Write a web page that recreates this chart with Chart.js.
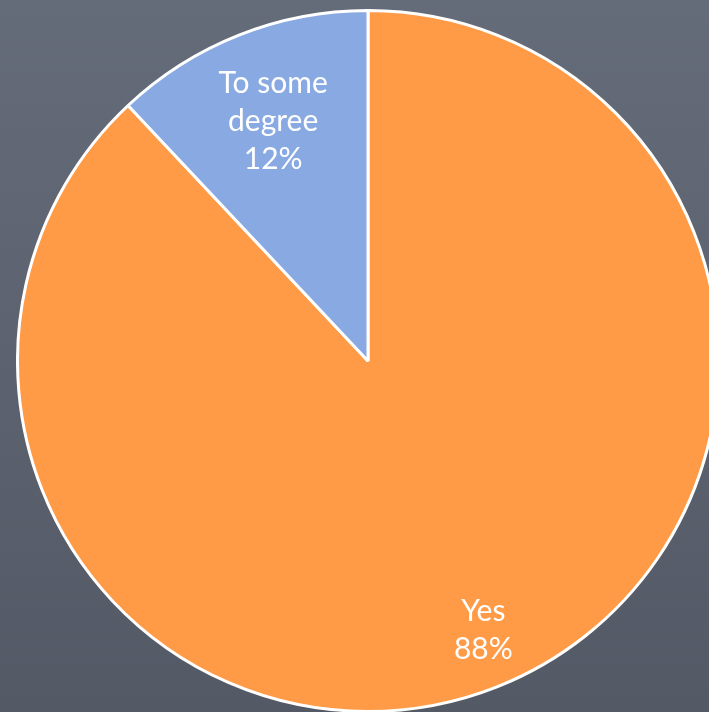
<!DOCTYPE html>
<html>
<head>
<meta charset="utf-8">
<script src="https://cdn.jsdelivr.net/npm/chart.js@4"></script>
<style>
  html, body {
    margin: 0;
    width: 709px;
    height: 712px;
    overflow: hidden;
    background: linear-gradient(to bottom, #656c79, #535965);
  }
  #wrap {
    position: absolute;
    left: 16px;
    top: 9px;
    width: 704px;
    height: 704px;
  }
</style>
</head>
<body>
<div id="wrap"><canvas id="pie" width="704" height="704"></canvas></div>
<script>
// Answers and their shares (percent)
const labels = ['Yes', 'To some degree'];
const shares = [88, 12];
const sliceColors = ['#ff9a46', '#88a9e1'];

// label distance from centre, as a fraction of the radius, plus a small angle nudge (rad)
const labelRadius = [0.835, 0.735];
const labelNudge = [-0.028, 0];

const sliceLabels = {
  id: 'sliceLabels',
  afterDatasetsDraw(chart) {
    const ctx = chart.ctx;
    const meta = chart.getDatasetMeta(0);
    ctx.save();
    ctx.fillStyle = '#ffffff';
    ctx.textAlign = 'center';
    ctx.textBaseline = 'middle';
    ctx.font = '30px Lato, "Open Sans", sans-serif';
    meta.data.forEach((arc, i) => {
      const mid = (arc.startAngle + arc.endAngle) / 2 + labelNudge[i];
      const r = arc.outerRadius * labelRadius[i];
      const x = arc.x + Math.cos(mid) * r;
      const y = arc.y + Math.sin(mid) * r;
      const lines = labels[i] === 'To some degree' ? ['To some', 'degree'] : [labels[i]];
      lines.push(shares[i] + '%');
      const lh = 38;
      const top = y - (lines.length - 1) * lh / 2;
      lines.forEach((t, j) => ctx.fillText(t, x, top + j * lh));
    });
    ctx.restore();
  }
};

new Chart(document.getElementById('pie').getContext('2d'), {
  type: 'pie',
  data: {
    labels: labels,
    datasets: [{
      data: shares,
      backgroundColor: sliceColors,
      borderColor: '#ffffff',
      borderWidth: 3
    }]
  },
  options: {
    responsive: false,
    animation: false,
    layout: { padding: 0 },
    plugins: {
      legend: { display: false },
      tooltip: { enabled: false }
    }
  },
  plugins: [sliceLabels]
});
</script>
</body>
</html>
